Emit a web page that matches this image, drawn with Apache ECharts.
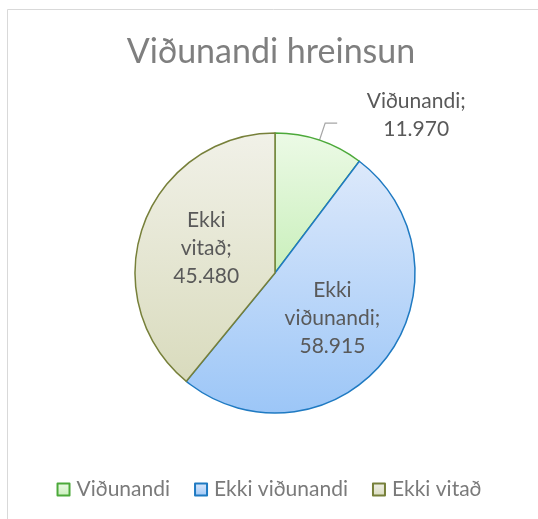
<!DOCTYPE html>
<html>
<head>
<meta charset="utf-8">
<script src="https://cdn.jsdelivr.net/npm/echarts@6/dist/echarts.min.js"></script>
<style>
html,body{margin:0;padding:0;background:#fff;}
#chart{width:538px;height:519px;}
</style>
</head>
<body>
<div id="chart"></div>
<script>
var titleText = 'Viðunandi hreinsun';
var categories = ['Viðunandi', 'Ekki viðunandi', 'Ekki vitað'];
var values = [11970, 58915, 45480];
var borderColors = ['#4ca93a', '#1f7ac2', '#77803a'];
var topColors = ['#ecfae6', '#dde9fb', '#f1f1e8'];
var bottomColors = ['#c9efbb', '#9cc6f7', '#d9dbbd'];

function fmt(v){
	return String(v).replace(/\B(?=(\d{3})+(?!\d))/g, '.');
}
function grad(i){
	return new echarts.graphic.LinearGradient(0, 0, 0, 1, [
		{offset: 0, color: topColors[i]},
		{offset: 1, color: bottomColors[i]}
	]);
}

var myChart = echarts.init(document.getElementById('chart'));
var data = [];
for (var i = 0; i < categories.length; i++) {
	var item = {
		name: categories[i],
		value: values[i],
		itemStyle: {color: grad(i), borderColor: borderColors[i], borderWidth: 1.5}
	};
	if (i == 0) {
		item.label = {
			position: 'outside',
			padding: [0, 0, 16, 0],
			formatter: function(p){ return '{a|' + p.name + ';}\n{a|' + fmt(p.value) + '}'; },
			rich: {a: {width: 148, align: 'center', fontSize: 21, lineHeight: 28, color: '#595959', fontFamily: 'Lato'}}
		};
		item.labelLine = {show: true, length: 18, length2: 12, lineStyle: {color: '#a6a6a6', width: 1.2}};
	}
	data.push(item);
}

var option = {
	animation: false,
	backgroundColor: '#fff',
	graphic: [{
		type: 'rect', shape: {x: 7.5, y: 9.5, width: 560, height: 560},
		style: {fill: 'none', stroke: '#d9d9d9', lineWidth: 1}, silent: true
	}],
	title: {
		text: titleText, left: 266, top: 30, textAlign: 'center',
		textStyle: {fontFamily: 'Lato', fontSize: 34, fontWeight: 'normal', color: '#7f7f7f'}
	},
	legend: {
		data: categories, bottom: 14, left: 'center', icon: 'rect',
		itemWidth: 12, itemHeight: 12, itemGap: 24,
		textStyle: {fontFamily: 'Lato', fontSize: 21, color: '#7a7a7a', padding: [0, 0, 0, 2]}
	},
	series: [{
		type: 'pie',
		center: [275, 273],
		radius: 140,
		startAngle: 90,
		clockwise: true,
		avoidLabelOverlap: false,
		label: {
			show: true, position: 'inside', color: '#595959',
			fontFamily: 'Lato', fontSize: 21, lineHeight: 28,
			formatter: function(p){
				var parts = p.name.split(' ');
				return parts.join('\n') + ';\n' + fmt(p.value);
			}
		},
		labelLine: {show: false},
		emphasis: {disabled: true},
		data: data
	}]
};
myChart.setOption(option);
</script>
</body>
</html>
